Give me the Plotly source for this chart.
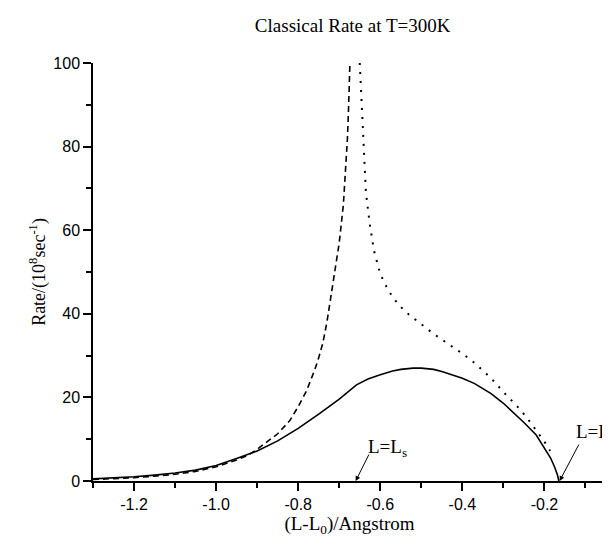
import plotly.graph_objects as go

# ---- data ----
solid_x = [-1.30, -1.25, -1.20, -1.15, -1.10, -1.05, -1.00, -0.95, -0.90, -0.85, -0.80, -0.75, -0.70,
           -0.658, -0.63, -0.60, -0.57, -0.55, -0.52, -0.50, -0.47, -0.45, -0.42, -0.40, -0.37, -0.35,
           -0.33, -0.30, -0.27, -0.25, -0.22, -0.20, -0.185, -0.175, -0.168, -0.165]
solid_y = [0.5, 0.7, 1.0, 1.4, 1.9, 2.6, 3.7, 5.4, 7.2, 9.6, 12.6, 16.0, 19.6,
           23.0, 24.4, 25.4, 26.3, 26.7, 27.0, 27.0, 26.7, 26.2, 25.3, 24.6, 23.3, 22.2,
           20.9, 18.6, 15.9, 14.0, 11.0, 8.0, 5.5, 3.3, 1.4, 0.0]

dash_x = [-1.30, -1.25, -1.20, -1.15, -1.10, -1.05, -1.00, -0.95, -0.92, -0.90, -0.87, -0.85, -0.82,
          -0.80, -0.78, -0.76, -0.75, -0.74, -0.73, -0.72, -0.71, -0.70, -0.69, -0.685, -0.68, -0.677, -0.674]
dash_y = [0.35, 0.55, 0.8, 1.15, 1.6, 2.3, 3.4, 5.0, 6.3, 7.6, 9.8, 11.3, 14.5,
          17.8, 21.5, 26.5, 29.5, 33.0, 38.0, 44.0, 50.0, 57.0, 66.0, 73.0, 82.0, 90.0, 100.0]

dot_x = [-0.650, -0.645, -0.640, -0.635, -0.625, -0.615, -0.60, -0.58, -0.556, -0.53, -0.50, -0.47,
         -0.43, -0.40, -0.37, -0.35, -0.33, -0.30, -0.28, -0.26, -0.24, -0.22, -0.20, -0.186]
dot_y = [100.0, 90.0, 78.0, 69.0, 61.0, 55.0, 49.5, 45.5, 42.2, 39.8, 37.5, 35.2,
         32.5, 30.5, 28.2, 26.3, 24.6, 21.3, 19.3, 17.2, 14.8, 12.2, 9.4, 7.2]

x_tick_vals = [-1.2, -1.0, -0.8, -0.6, -0.4, -0.2]
x_tick_text = ["-1.2", "-1.0", "-0.8", "-0.6", "-0.4", "-0.2"]
y_tick_vals = [0, 20, 40, 60, 80, 100]
y_tick_text = ["0", "20", "40", "60", "80", "100"]

L_s = -0.66
L_f = -0.163

serif = "Liberation Serif, Times New Roman, serif"
sans = "Liberation Sans, Arial, sans-serif"

fig = go.Figure()
fig.add_trace(go.Scatter(x=solid_x, y=solid_y, mode="lines",
                         line=dict(color="black", width=1.6), showlegend=False))
fig.add_trace(go.Scatter(x=dash_x, y=dash_y, mode="lines",
                         line=dict(color="black", width=1.6, dash="6px,4px"), showlegend=False))
fig.add_trace(go.Scatter(x=dot_x, y=dot_y, mode="lines",
                         line=dict(color="black", width=2, dash="2px,7px"), showlegend=False))

axis_common = dict(showline=True, linecolor="black", linewidth=1.5, ticks="outside",
                   ticklen=8, tickwidth=1.5, tickcolor="black", showgrid=False, zeroline=False,
                   mirror=False, automargin=False, tickfont=dict(family=sans, size=16, color="black"))

fig.update_layout(
    width=610, height=536,
    margin=dict(l=85, r=12, t=55, b=63),
    paper_bgcolor="white", plot_bgcolor="white",
    title=dict(text="Classical Rate at T=300K", x=0.565, xanchor="center", y=0.968, yanchor="middle",
               font=dict(family=serif, size=19, color="black")),
    xaxis=dict(range=[-1.3, -0.05], tickmode="array", tickvals=x_tick_vals, ticktext=x_tick_text,
               minor=dict(dtick=0.1, tick0=-1.3, ticklen=5, tickwidth=1.5, tickcolor="black", ticks="outside"),
               title=dict(text="(L-L<sub>0</sub>)/Angstrom", font=dict(family=serif, size=19, color="black"),
                          standoff=4),
               **axis_common),
    yaxis=dict(range=[0, 100], tickmode="array", tickvals=y_tick_vals, ticktext=y_tick_text,
               minor=dict(dtick=10, tick0=0, ticklen=5, tickwidth=1.5, tickcolor="black", ticks="outside"),
               title=dict(text="Rate/(10<sup>8</sup>sec<sup>-1</sup>)", font=dict(family=serif, size=18, color="black"),
                          standoff=3),
               **axis_common),
)

# arrows
fig.add_annotation(x=L_s, y=0, xref="x", yref="y", text="", showarrow=True,
                   ax=14, ay=-28, arrowhead=2, arrowsize=1, arrowwidth=1, arrowcolor="black", standoff=0)
fig.add_annotation(x=L_f, y=0, xref="x", yref="y", text="", showarrow=True,
                   ax=20, ay=-38, arrowhead=2, arrowsize=1, arrowwidth=1, arrowcolor="black", standoff=0)
# labels
fig.add_annotation(x=-0.634, y=8.0, xref="x", yref="y", text="L=L<sub>s</sub>", showarrow=False,
                   xanchor="left", yanchor="middle", font=dict(family=serif, size=19, color="black"))
fig.add_annotation(x=-0.129, y=11.4, xref="x", yref="y", text="L=L<sub>f</sub>", showarrow=False,
                   xanchor="left", yanchor="middle", font=dict(family=serif, size=19, color="black"))

fig.write_html("out.html")
